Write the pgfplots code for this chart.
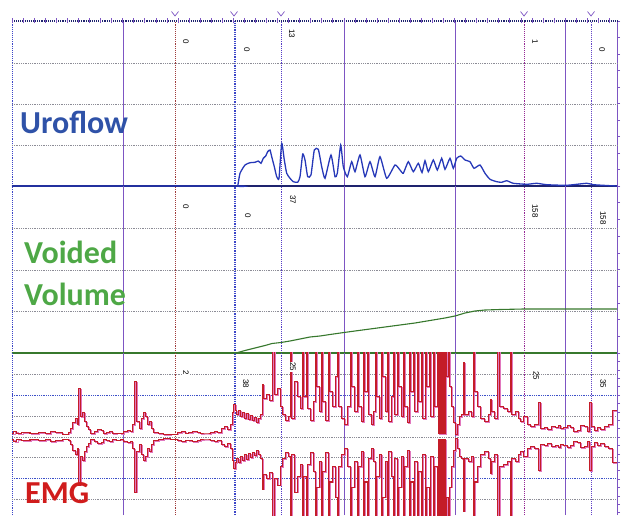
\documentclass[border=0pt]{standalone}
\usepackage{fontspec}
\setmainfont{Carlito}
\newfontfamily\numfont{Liberation Sans}
\usepackage{pgfplots}
\usepackage{pgfplotstable}
\pgfplotsset{compat=1.18}

\definecolor{flowblue}{RGB}{38,56,184}
\definecolor{labblue}{RGB}{47,82,168}
\definecolor{volgreen}{RGB}{55,120,45}
\definecolor{labgreen}{RGB}{78,168,70}
\definecolor{emgred}{RGB}{196,28,40}
\definecolor{labred}{RGB}{208,28,28}
\definecolor{emgpink}{RGB}{225,120,190}
\definecolor{gridv}{RGB}{125,85,195}
\definecolor{hgrid}{RGB}{140,140,150}
\definecolor{hblue}{RGB}{60,80,200}
\definecolor{evA}{RGB}{160,60,60}
\definecolor{evB}{RGB}{60,70,200}
\definecolor{evC}{RGB}{85,60,200}
\definecolor{evD}{RGB}{150,40,150}
\definecolor{evE}{RGB}{100,70,200}
\definecolor{navy}{RGB}{30,35,110}

\pgfdeclareplotmark{vee}{%
  \pgfpathmoveto{\pgfqpoint{-3.5pt}{2.5pt}}%
  \pgfpathlineto{\pgfqpoint{0pt}{-2pt}}%
  \pgfpathlineto{\pgfqpoint{3.5pt}{2.5pt}}%
  \pgfusepathqstroke}

\pgfplotsset{panel/.style={scale only axis, width=605pt, xmin=12, xmax=617,
  axis x line=none, axis y line*=right, yticklabels={},
  tick align=outside, major tick length=3pt,
  y axis line style={-, gridv, line width=0.9pt},
  ytick style={gridv, line width=0.5pt}, anchor=south west}}

\newcommand{\vgrid}[2]{%
  \draw[gridv, line width=0.8pt] (axis cs:123,#1) -- (axis cs:123,#2);
  \draw[gridv, line width=0.8pt] (axis cs:344,#1) -- (axis cs:344,#2);
  \draw[gridv, line width=0.8pt] (axis cs:455,#1) -- (axis cs:455,#2);
  \draw[gridv, line width=0.8pt] (axis cs:565,#1) -- (axis cs:565,#2);
  \draw[evA, line width=0.9pt, densely dotted] (axis cs:175,#1) -- (axis cs:175,#2);
  \draw[evB, line width=0.8pt, densely dotted] (axis cs:234,#1) -- (axis cs:234,#2);
  \draw[evB, line width=0.8pt, densely dotted] (axis cs:235.8,#1) -- (axis cs:235.8,#2);
  \draw[evC, line width=0.9pt, densely dotted] (axis cs:281,#1) -- (axis cs:281,#2);
  \draw[evD, line width=0.9pt, densely dotted] (axis cs:524,#1) -- (axis cs:524,#2);
  \draw[evE, line width=0.9pt, densely dotted] (axis cs:591,#1) -- (axis cs:591,#2);
  \draw[evB, line width=0.9pt, densely dotted] (axis cs:12.5,#1) -- (axis cs:12.5,#2);
}
\newcommand{\hg}[2][hgrid]{\draw[#1, line width=0.8pt, densely dotted] (axis cs:12,#2) -- (axis cs:617,#2);}

\pgfplotstableread{
x y
12 0
236 0
237.7 0
240 12.7
245 21
250 23.3
255 23.7
258.3 25
261 22.7
263.3 27.7
265.7 30
267.7 34.3
270 36
271.7 29.3
274.3 19.3
276.7 9.3
279 7.7
281.7 42.7
284.3 26
286.7 12.7
290 7.7
293.3 4.3
297.7 3.7
300 9.3
302.7 32
305 26
307.7 9.3
311 11
314.3 36
318.3 36.7
321.7 19.3
325 7.7
331 31
335 9.3
337.3 12.7
340.7 41
343.3 19.3
347.3 9.3
351.7 24.3
355 14.3
360 31
365 9.3
370 24.3
375 9.3
380 29.3
386.7 7.7
395 21
400 16
403.3 12.7
408.3 24.3
413.3 14.3
418.3 22.7
422 13.5
425 25.3
428.3 14.3
433.3 26
437.3 16
441.7 27.7
445 16.7
450 27.7
453.3 17.7
456.7 27.7
460.7 30
465 26
470 24.3
474 17.7
480 21
485 12.7
490 6.7
496.7 4.3
501.7 3.7
506.7 5.3
513.3 2.7
526.7 1.7
536.7 2.7
546.7 1.3
566.7 0.7
586.7 2.7
593.3 1.3
610 0.3
617 0
}\flow

\pgfplotstableread{
x y
12 0
236 0
245 2.5
255 5
265 7.5
272 9.5
281 10.5
290 12
300 14
310 16
320 17
330 18.5
344 20.5
355 22
370 24
385 26
400 28
415 30
430 32.5
445 35
455 37
465 40
475 42
485 43
500 43.5
524 44
617 44
}\vol

\pgfplotstableread{
x a
12 3
14 5
17 3
22 4
30 3
38 4
45 3
50 5
55 4
62 2.5
68 4
70 8
72 14
75 18
77 12
78 48
80 20
82 24
84 15
86 10
88 7
90 3
94 5
97 7
101 6
103 3
106 4
109 5
112 3
116 3.5
120 3
123 5
127 6
130 5
132 12
134 55
136 15
139 8
141 18
143 24
145 20
147 12
149 15
151 8
153 4
158 3
163 2
170 2.5
177 4
181 5
185 3.5
188 4
192 5
197 4
200 3
207 3
210 4
214 5
217 4
221 8
224 10
227 7
230 12
232 24
233.5 32
235 26
236 22
238 26
240 20
242 24
244 18
246 23
248 17
250 21
252 16
254 19
256 14
258 18
260 22
262 52
263.5 38
266 42
269 36
272.5 95
274 42
277 48
280 30
282.5 22
285 16
288 20
290 95
291.5 18
294 55
297 40
300 28
302 95
303.5 40
306 95
307.5 28
310 16
313 35
315 95
316.5 50
319 25
321 95
322.5 35
325 16
328 95
329.5 45
332 30
335 60
337 95
338.5 30
341 18
344 12
347 30
350 95
351.5 50
354 25
357 95
358.5 30
361 15
363 95
364.5 45
367 95
368.5 22
371 12
373 25
375 95
376.5 40
379 18
381 95
382.5 60
385 25
387 95
388.5 15
391 40
393 95
394.5 22
397 95
398.5 50
401 20
403 95
404.5 30
407 14
409 95
410.5 45
413 95
414.5 25
417 95
418.5 35
421 95
422.5 18
425 95
426.5 50
429 95
430.5 20
433 95
434.5 30
437 95
438 3
439 95
440 3
441 95
442 3
443 95
444 3
445 95
446.5 60
448 95
449.5 50
451 30
453 14
455 2
457 12
459 20
461 22
463 74
464.5 22
468 25
471 20
473 95
474.5 45
477 30
480 18
484 15
488 22
490 37
491.5 25
494 18
497 95
499.5 30
503 28
507 25
510 95
511.5 22
515 25
518 18
520 15
523 20
527 12
530 10
534 12
538 34
540 8
544 9
547 7
551 10
555 9
558 11
560 8
563 9
567 11
570 9
573 5
577 6
580 11
584 10
587 5
589 34
591 10
594 6
597 9
600 7
604 10
608 12
612 26
617 26
}\emg

\begin{document}
\begin{tikzpicture}
\useasboundingbox (0,0) rectangle (632pt,515pt);

% ---------------- Uroflow panel ----------------
\begin{axis}[panel, at={(12pt,329pt)}, height=165pt, ymin=0, ymax=165,
  ytick={0,16.5,...,165}, clip=false]
  \vgrid{0}{165}
  \hg{41}\hg{82}\hg{123}
  \draw[navy, line width=1.1pt, densely dotted] (axis cs:12,165) -- (axis cs:617,165);
  \pgfplotsinvokeforeach{12,23.06,...,612}{\draw[gridv, line width=0.5pt] (axis cs:#1,162.5) -- (axis cs:#1,167.5);}
  \draw[navy, line width=1.5pt] (axis cs:12,0) -- (axis cs:617,0);
  \addplot[flowblue, line width=1.3pt, smooth, tension=0.3] table[x=x, y=y] {\flow};
  \addplot[only marks, mark=vee, mark options={gridv, line width=0.7pt}] coordinates {(175,172) (234,172) (281,172) (524,172) (591,172)};
  \node[anchor=base west, inner sep=0pt, text=labblue, font=\fontsize{32}{36}\selectfont\bfseries] at (axis cs:20,52) {Uroflow};
  \node[rotate=-90, font=\numfont\fontsize{8}{9}\selectfont] at (axis cs:186,144) {0};
  \node[rotate=-90, font=\numfont\fontsize{8}{9}\selectfont] at (axis cs:247,136) {0};
  \node[rotate=-90, font=\numfont\fontsize{8}{9}\selectfont] at (axis cs:292,152) {13};
  \node[rotate=-90, font=\numfont\fontsize{8}{9}\selectfont] at (axis cs:535,144) {1};
  \node[rotate=-90, font=\numfont\fontsize{8}{9}\selectfont] at (axis cs:602,136) {0};
\end{axis}

% ---------------- Voided volume panel ----------------
\begin{axis}[panel, at={(12pt,162pt)}, height=167pt, ymin=0, ymax=167,
  ytick={0,16.7,...,167}, clip=false]
  \vgrid{0}{167}
  \hg{42}\hg{83}\hg{125}
  \draw[volgreen, line width=1.4pt] (axis cs:12,0) -- (axis cs:617,0);
  \addplot[volgreen, line width=1.1pt] table[x=x, y=y] {\vol};
  \node[anchor=base west, inner sep=0pt, text=labgreen, font=\fontsize{32}{36}\selectfont\bfseries] at (axis cs:24,90) {Voided};
  \node[anchor=base west, inner sep=0pt, text=labgreen, font=\fontsize{32}{36}\selectfont\bfseries] at (axis cs:24,48) {Volume};
  \node[rotate=-90, font=\numfont\fontsize{8}{9}\selectfont] at (axis cs:186,146) {0};
  \node[rotate=-90, font=\numfont\fontsize{8}{9}\selectfont] at (axis cs:248,137) {0};
  \node[rotate=-90, font=\numfont\fontsize{8}{9}\selectfont] at (axis cs:293,153) {37};
  \node[rotate=-90, font=\numfont\fontsize{8}{9}\selectfont] at (axis cs:535,142) {158};
  \node[rotate=-90, font=\numfont\fontsize{8}{9}\selectfont] at (axis cs:603,135) {158};
\end{axis}

% ---------------- EMG panel ----------------
\begin{axis}[panel, at={(12pt,0pt)}, height=162pt, ymin=-78, ymax=84,
  ytick={-75.6,-67.2,...,84}]
  \vgrid{-78}{84}
  \hg{63}\hg[hblue]{42}\hg{21}\hg{0}\hg{-20}\hg[hblue]{-41}\hg{-62}
  \addplot[emgpink, line width=0.6pt, const plot] table[x expr=\thisrow{x}+1.2, y=a] {\emg};
  \addplot[emgpink, line width=0.6pt, const plot] table[x expr=\thisrow{x}+1.2, y expr=-\thisrow{a}] {\emg};
  \addplot[emgred, line width=1pt, const plot] table[x=x, y=a] {\emg};
  \addplot[emgred, line width=1pt, const plot] table[x=x, y expr=-\thisrow{a}] {\emg};
  \node[anchor=base west, inner sep=0pt, text=labred, font=\fontsize{32}{36}\selectfont\bfseries] at (axis cs:25,-66) {EMG};
  \node[rotate=-90, fill=white, inner sep=0.5pt, font=\numfont\fontsize{8}{9}\selectfont] at (axis cs:186,64) {2};
  \node[rotate=-90, fill=white, inner sep=0.5pt, font=\numfont\fontsize{8}{9}\selectfont] at (axis cs:246,53) {38};
  \node[rotate=-90, fill=white, inner sep=0.5pt, font=\numfont\fontsize{8}{9}\selectfont] at (axis cs:293,70) {25};
  \node[rotate=-90, fill=white, inner sep=0.5pt, font=\numfont\fontsize{8}{9}\selectfont] at (axis cs:536,61) {25};
  \node[rotate=-90, fill=white, inner sep=0.5pt, font=\numfont\fontsize{8}{9}\selectfont] at (axis cs:603,53) {35};
\end{axis}
\end{tikzpicture}
\end{document}
